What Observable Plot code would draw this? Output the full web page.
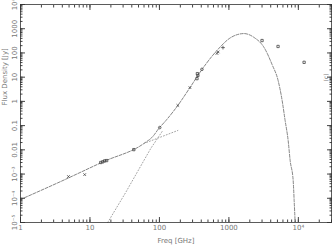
<!DOCTYPE html>
<html><head><meta charset="utf-8">
<script src="https://cdn.jsdelivr.net/npm/d3@7"></script>
<script src="https://cdn.jsdelivr.net/npm/@observablehq/plot@0.6"></script>
<style>html,body{margin:0;padding:0;background:#fff}</style>
</head><body><div id="chart"></div>
<script>
// Tick values and labels
const xTicks = [1, 10, 100, 1000, 10000];
const xTickLabels = ["1", "10", "100", "1000", "10⁴"];
const yTicks = [1e-5, 1e-4, 1e-3, 0.01, 0.1, 1, 10, 100, 1000, 1e4];
const yTickLabels = ["10⁻⁵", "10⁻⁴", "10⁻³", "0.01", "0.1", "1", "10", "100", "1000", "10⁴"];

// Observed flux densities
const obsFreq = [4.9, 8.4, 14.3, 15.3, 16.3, 17.4, 42.8, 101, 184, 275, 347, 358, 352, 409, 673, 700, 822, 3000, 5100, 12100];
const obsFlux = [7.9e-4, 9.5e-4, 3.0e-3, 3.2e-3, 3.5e-3, 3.6e-3, 0.0102, 0.083, 0.68, 3.7, 8.7, 11.8, 14, 21, 95, 110, 166, 325, 185, 41];
const obsSymbol = ["times", "times", "square", "square", "square", "square", "square", "circle", "times", "times", "square", "square", "square", "circle", "times", "times", "plus", "square", "square", "square"];

// Total model curve
const totFreq = [1, 3.78, 15.8, 59.6, 80.3, 98, 124, 184, 275, 409, 673, 1072, 1652, 2300, 3210, 4190, 5110, 5840, 6450, 7130, 7620, 8420, 8700, 8990];
const totFlux = [8.9e-5, 4.9e-4, 3.3e-3, 0.0182, 0.0355, 0.076, 0.162, 0.68, 3.7, 20.7, 126, 437, 631, 437, 168, 33, 7.3, 1.09, 0.162, 0.0243, 3.6e-3, 5.4e-4, 8.1e-5, 1e-5];

// Synchrotron component continuation (dotted)
const syncFreq = [59.6, 184];
const syncFlux = [0.0182, 0.063];

// Dust component (dotted)
const dustFreq = [18, 32.7, 75, 112];
const dustFlux = [1e-5, 1.74e-4, 0.0114, 0.063];

const tot = totFreq.map((f, i) => ({f, s: totFlux[i]}));
const sync = syncFreq.map((f, i) => ({f, s: syncFlux[i]}));
const dust = dustFreq.map((f, i) => ({f, s: dustFlux[i]}));
const obs = obsFreq.map((f, i) => ({f, s: obsFlux[i], sym: obsSymbol[i]}));

const xMinor = d3.scaleLog().domain([1, 3e4]).ticks();
const yMinor = d3.scaleLog().domain([1e-5, 1e4]).ticks();
const blank = () => "";
const xFmt = d => xTickLabels[xTicks.findIndex(t => Math.abs(t - d) / t < 1e-6)] ?? "";
const yFmt = d => yTickLabels[yTicks.findIndex(t => Math.abs(t - d) / t < 1e-6)] ?? "";

const tc = "#777";
const chart = Plot.plot({
  width: 332,
  height: 246,
  marginLeft: 20,
  marginRight: 1,
  marginTop: 4,
  marginBottom: 24,
  style: {background: "#fff", color: tc, fontSize: "7px", fontFamily: "DejaVu Sans"},
  x: {type: "log", domain: [1, 3e4]},
  y: {type: "log", domain: [1e-5, 1e4]},
  symbol: {type: "identity"},
  marks: [
    Plot.line(tot, {x: "f", y: "s", stroke: "#777", strokeWidth: 0.9, strokeDasharray: "3,1.5", curve: "monotone-x", clip: true}),
    Plot.line(sync, {x: "f", y: "s", stroke: "#999", strokeWidth: 0.9, strokeDasharray: "1,2"}),
    Plot.line(dust, {x: "f", y: "s", stroke: "#999", strokeWidth: 0.9, strokeDasharray: "1,2"}),
    Plot.dot(obs, {x: "f", y: "s", symbol: "sym", r: 1.3, stroke: "#444", strokeWidth: 0.8, fill: "none"}),
    // tick labels
    Plot.axisX({anchor: "bottom", ticks: xTicks, tickFormat: xFmt, tickSize: 0, tickPadding: 3, label: null, fill: tc}),
    Plot.axisY({anchor: "left", ticks: yTicks, tickFormat: yFmt, tickSize: 0, tickPadding: 4, tickRotate: -90, label: null, fill: tc}),
    // inward major ticks
    Plot.axisX({anchor: "bottom", ticks: xTicks, tickSize: 5, dy: -5, tickFormat: blank, label: null, stroke: "#444"}),
    Plot.axisX({anchor: "top", ticks: xTicks, tickSize: 5, dy: 5, tickFormat: blank, label: null, stroke: "#444"}),
    Plot.axisY({anchor: "left", ticks: yTicks, tickSize: 5, dx: 5, tickFormat: blank, label: null, stroke: "#444"}),
    Plot.axisY({anchor: "right", ticks: yTicks, tickSize: 5, dx: -5, tickFormat: blank, label: null, stroke: "#444"}),
    // inward minor ticks
    Plot.axisX({anchor: "bottom", ticks: xMinor, tickSize: 2.5, dy: -2.5, tickFormat: blank, label: null, stroke: "#444"}),
    Plot.axisX({anchor: "top", ticks: xMinor, tickSize: 2.5, dy: 2.5, tickFormat: blank, label: null, stroke: "#444"}),
    Plot.axisY({anchor: "left", ticks: yMinor, tickSize: 2.5, dx: 2.5, tickFormat: blank, label: null, stroke: "#444"}),
    Plot.axisY({anchor: "right", ticks: yMinor, tickSize: 2.5, dx: -2.5, tickFormat: blank, label: null, stroke: "#444"}),
    Plot.frame({stroke: "#333", strokeWidth: 0.8}),
    Plot.text(["Freq [GHz]"], {frameAnchor: "bottom", dy: 20, fill: tc, fontSize: 7}),
    Plot.text(["Flux Density [Jy]"], {frameAnchor: "left", dx: -16, dy: -8, rotate: -90, fill: tc, fontSize: 7}),
    Plot.text(["(c)"], {frameAnchor: "right", dx: -5, dy: -40, rotate: -90, fill: tc, fontSize: 6})
  ]
});
document.getElementById("chart").appendChild(chart);
</script>
</body></html>
